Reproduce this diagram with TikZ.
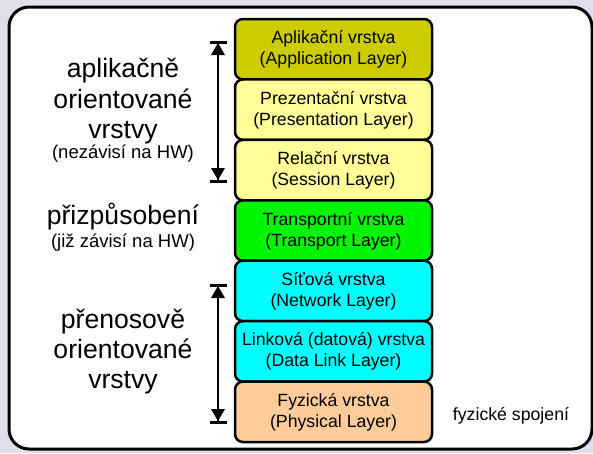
\documentclass[tikz,border=0pt]{standalone}
\usepackage{fontspec}
\setmainfont{Liberation Sans}
\usetikzlibrary{calc}
\definecolor{bgcol}{RGB}{224,224,236}
\definecolor{appcol}{RGB}{204,204,0}
\definecolor{prescol}{RGB}{255,255,153}
\definecolor{transcol}{RGB}{0,245,0}
\definecolor{netcol}{RGB}{0,255,255}
\definecolor{physcol}{RGB}{255,204,153}
\tikzset{
  layer/.style={draw, line width=2.5pt, rounded corners=8pt, minimum width=197pt,
    minimum height=60.4pt, inner sep=0pt},
  ltext/.style={anchor=base, inner sep=0pt, font=\fontsize{17.7}{21}\selectfont},
  bigtext/.style={anchor=base, inner sep=0pt, font=\fontsize{26.6}{30}\selectfont},
  smalltext/.style={anchor=base, inner sep=0pt, font=\fontsize{18.5}{22}\selectfont},
  spanline/.style={line width=2.8pt},
  spanbar/.style={line width=3pt},
}
\newcommand\spantip[2]{%
  \draw[spanbar] ($(#1)+(-8.5,0)$) -- ($(#1)+(8.5,0)$);
  \fill ($(#1)+(0,#2*1)$) -- ($(#1)+(-7,#2*13)$) -- ($(#1)+(7,#2*13)$) -- cycle;}
\begin{document}
\begin{tikzpicture}[x=1pt,y=-1pt]
\useasboundingbox (0,0) rectangle (593,453);
\fill[bgcol] (0,0) rectangle (593,453);
\draw[line width=3pt, fill=white, rounded corners=20pt] (9,7) rectangle (592,449);

% layers
\node[layer, fill=appcol]   (l7) at (333.5,49.2) {};
\node[layer, fill=prescol]  (l6) at (333.5,109.6) {};
\node[layer, fill=prescol]  (l5) at (333.5,170.1) {};
\node[layer, fill=transcol] (l4) at (333.5,230.5) {};
\node[layer, fill=netcol]   (l3) at (333.5,290.9) {};
\node[layer, fill=netcol]   (l2) at (333.5,351.4) {};
\node[layer, fill=physcol]  (l1) at (333.5,411.8) {};

\foreach \n/\a/\b in {l7/Aplikační vrstva/(Application Layer),
                      l6/Prezentační vrstva/(Presentation Layer),
                      l5/Relační vrstva/(Session Layer),
                      l4/Transportní vrstva/(Transport Layer),
                      l3/Síťová vrstva/(Network Layer),
                      l2/Linková (datová) vrstva/(Data Link Layer),
                      l1/Fyzická vrstva/(Physical Layer)}{
  \node[ltext] (\n a) at ([yshift=5.5pt]\n.center) {\a};
  \node[ltext] (\n b) at ([yshift=-15.5pt]\n.center) {\b};
}

% left labels
\node[bigtext] (t1) at (123,77) {aplikačně};
\node[bigtext] (t2) at (123,108) {orientované};
\node[bigtext] (t3) at (123,138) {vrstvy};
\node[smalltext] (t4) at (123,158) {(nezávisí na HW)};
\node[bigtext] (t5) at (123,224) {přizpůsobení};
\node[smalltext] (t6) at (123,247) {(již závisí na HW)};
\node[bigtext] (t7) at (123,328) {přenosově};
\node[bigtext] (t8) at (123,358) {orientované};
\node[bigtext] (t9) at (123,388) {vrstvy};
\node[ltext] (t10) at (511,420) {fyzické spojení};

% spans
\coordinate (a1) at (218,42);
\coordinate (a2) at (218,181);
\coordinate (b1) at (218,285);
\coordinate (b2) at (218,422);
\draw[spanline] (a1) -- (a2);
\draw[spanline] (b1) -- (b2);
\spantip{a1}{1}
\spantip{a2}{-1}
\spantip{b1}{1}
\spantip{b2}{-1}
\end{tikzpicture}
\end{document}
